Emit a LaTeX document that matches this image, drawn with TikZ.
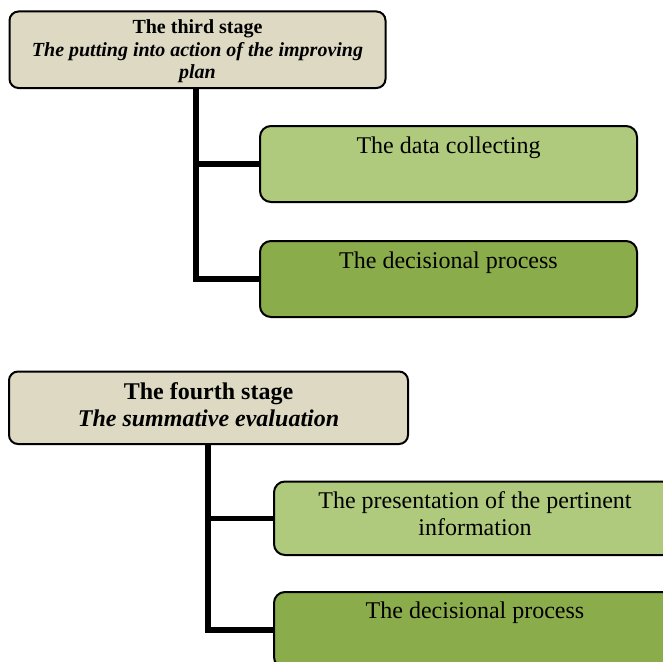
\documentclass[tikz,border=0pt]{standalone}
\usepackage{fontspec}
\setmainfont{Liberation Serif}
\usetikzlibrary{calc}
\definecolor{stagetan}{HTML}{DDD9C3}
\definecolor{lightolive}{HTML}{AFCA7D}
\definecolor{darkolive}{HTML}{8BAC4A}
\tikzset{
  stagebox/.style={draw=black, line width=2pt, rounded corners=9pt, fill=stagetan,
    anchor=north west, inner sep=0pt},
  taskbox/.style={draw=black, line width=2pt, rounded corners=11pt,
    anchor=north west, inner sep=0pt, minimum height=76pt},
  lighttask/.style={taskbox, fill=lightolive},
  darktask/.style={taskbox, fill=darkolive},
  smalltext/.style={anchor=north, inner sep=0pt, align=center,
    font=\fontsize{20}{22.5}\selectfont},
  bigtext/.style={anchor=north, inner sep=0pt, align=center,
    font=\fontsize{24}{26.5}\selectfont},
  link/.style={line width=5.5pt, line join=miter, line cap=butt}
}
\begin{document}
\begin{tikzpicture}[x=1pt, y=-1pt]
  \useasboundingbox (0,0) rectangle (663,661);
  \clip (0,0) rectangle (663,661);

  % third stage
  \node[stagebox, minimum width=376pt, minimum height=76.5pt] (s3) at (8.5,10.5) {};
  \node[smalltext] (s3t) at ($(s3.north)+(0,9)$)
    {\textbf{The third stage}\\\textbf{\textit{The putting into action of the improving}}\\\textbf{\textit{plan}}};
  \node[lighttask, minimum width=377pt] (collect) at (259,125) {};
  \node[bigtext] (collectt) at ($(collect.north)+(0,11.7)$) {The data collecting};
  \node[darktask, minimum width=377pt] (decide3) at (259,240) {};
  \node[bigtext] (decide3t) at ($(decide3.north)+(0,11.7)$) {The decisional process};

  \coordinate (trunk3) at ($(s3.south west)+(187.5,0)$);
  \draw[link] (trunk3) |- (decide3.west);
  \draw[link] (trunk3 |- collect.west) -- (collect.west);

  % fourth stage
  \node[stagebox, minimum width=399pt, minimum height=72.5pt] (s4) at (8,370.5) {};
  \node[bigtext] (s4t) at ($(s4.north)+(0,12.2)$)
    {\textbf{The fourth stage}\\\textbf{\textit{The summative evaluation}}};
  \node[lighttask, minimum width=402pt, minimum height=73.5pt] (present) at (273,480.5) {};
  \node[bigtext] (presentt) at ($(present.north)+(0,11.2)$)
    {The presentation of the pertinent\\information};
  \node[darktask, minimum width=402pt] (decide4) at (273,591) {};
  \node[bigtext] (decide4t) at ($(decide4.north)+(0,10.7)$) {The decisional process};

  \coordinate (trunk4) at ($(s4.south west)+(200,0)$);
  \draw[link] (trunk4) |- (decide4.west);
  \draw[link] (trunk4 |- present.west) -- (present.west);
\end{tikzpicture}
\end{document}
